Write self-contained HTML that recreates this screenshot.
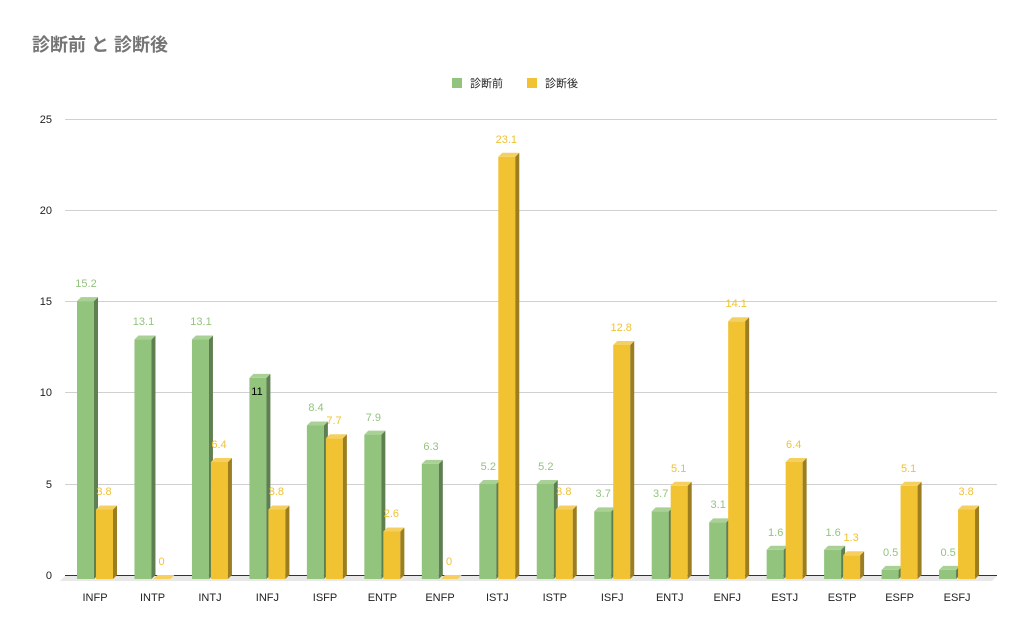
<!DOCTYPE html>
<html><head><meta charset="utf-8"><style>
body{margin:0;background:#fff;}
svg{display:block;font-family:"Liberation Sans","Noto Sans CJK JP",sans-serif;}
.g{fill:#93c47d;font-size:11px;text-anchor:middle}
.y{fill:#f1c232;font-size:11px;text-anchor:middle}
.ax{fill:#222;font-size:11px}
</style></head><body>
<svg id="s" width="1028" height="635" viewBox="0 0 1028 635">
<rect width="1028" height="635" fill="#fff"/>
<text x="32" y="51" font-size="18" font-weight="bold" fill="#757575">診断前 と 診断後</text>
<rect x="452" y="78" width="10" height="10" fill="#93c47d"/>
<text x="470" y="87" font-size="11" fill="#222">診断前</text>
<rect x="527" y="78" width="10" height="10" fill="#f1c232"/>
<text x="545" y="87" font-size="11" fill="#222">診断後</text>
<g stroke="#d0d0d0" stroke-width="1">
<line x1="65" x2="997" y1="119.5" y2="119.5"/>
<line x1="65" x2="997" y1="210.5" y2="210.5"/>
<line x1="65" x2="997" y1="301.5" y2="301.5"/>
<line x1="65" x2="997" y1="392.5" y2="392.5"/>
<line x1="65" x2="997" y1="484.5" y2="484.5"/>
</g>
<polygon points="65,576 997,576 992,581 60,581" fill="#e8e8e8"/>
<line x1="65" x2="997" y1="575.5" y2="575.5" stroke="#333"/>
<g class="ax" text-anchor="end">
<text x="52" y="123">25</text><text x="52" y="214">20</text><text x="52" y="305">15</text>
<text x="52" y="396">10</text><text x="52" y="488">5</text><text x="52" y="579">0</text>
</g>
<g id="bars"></g>
<g class="ax" text-anchor="middle">
<text x="95" y="601">INFP</text><text x="152.5" y="601">INTP</text><text x="210" y="601">INTJ</text><text x="267.4" y="601">INFJ</text>
<text x="325" y="601">ISFP</text><text x="382.4" y="601">ENTP</text><text x="440" y="601">ENFP</text><text x="497.3" y="601">ISTJ</text>
<text x="554.8" y="601">ISTP</text><text x="612.2" y="601">ISFJ</text><text x="669.7" y="601">ENTJ</text><text x="727.2" y="601">ENFJ</text>
<text x="784.7" y="601">ESTJ</text><text x="842.1" y="601">ESTP</text><text x="899.6" y="601">ESFP</text><text x="957.1" y="601">ESFJ</text>
</g>
<g>
<text class="g" x="86" y="287">15.2</text><text class="y" x="104" y="495">3.8</text>
<text class="g" x="143.5" y="325">13.1</text><text class="y" x="161.5" y="565">0</text>
<text class="g" x="201" y="325">13.1</text><text class="y" x="219" y="448">6.4</text>
<text x="257" y="395" font-size="11" fill="#000" text-anchor="middle">11</text><text class="y" x="276.4" y="495">3.8</text>
<text class="g" x="316" y="411">8.4</text><text class="y" x="334" y="424">7.7</text>
<text class="g" x="373.4" y="421">7.9</text><text class="y" x="391.4" y="517">2.6</text>
<text class="g" x="431" y="450">6.3</text><text class="y" x="449" y="565">0</text>
<text class="g" x="488.3" y="470">5.2</text><text class="y" x="506.3" y="143">23.1</text>
<text class="g" x="545.8" y="470">5.2</text><text class="y" x="563.8" y="495">3.8</text>
<text class="g" x="603.2" y="497">3.7</text><text class="y" x="621.2" y="331">12.8</text>
<text class="g" x="660.7" y="497">3.7</text><text class="y" x="678.7" y="472">5.1</text>
<text class="g" x="718.2" y="508">3.1</text><text class="y" x="736.2" y="307">14.1</text>
<text class="g" x="775.7" y="536">1.6</text><text class="y" x="793.7" y="448">6.4</text>
<text class="g" x="833.1" y="536">1.6</text><text class="y" x="851.1" y="541">1.3</text>
<text class="g" x="890.6" y="556">0.5</text><text class="y" x="908.6" y="472">5.1</text>
<text class="g" x="948.1" y="556">0.5</text><text class="y" x="966.1" y="495">3.8</text>
</g>
</svg>
<script>
var G=[15.2,13.1,13.1,11,8.4,7.9,6.3,5.2,5.2,3.7,3.7,3.1,1.6,1.6,0.5,0.5];
var Y=[3.8,0,6.4,3.8,7.7,2.6,0,23.1,3.8,12.8,5.1,14.1,6.4,1.3,5.1,3.8];
var h='';
function bar(x,v,f,s,t){var b=579,top=b-v*18.28,w=17,d=4;
 if(v>0){h+='<rect x="'+x+'" y="'+top+'" width="'+w+'" height="'+(b-top)+'" fill="'+f+'"/>';
 h+='<polygon points="'+(x+w)+','+top+' '+(x+w+d)+','+(top-d)+' '+(x+w+d)+','+(b-d)+' '+(x+w)+','+b+'" fill="'+s+'"/>';}
 h+='<polygon points="'+x+','+top+' '+(x+d)+','+(top-d)+' '+(x+w+d)+','+(top-d)+' '+(x+w)+','+top+'" fill="'+t+'"/>';}
for(var i=0;i<16;i++){var c=95+57.47*i;
 bar(c-18,G[i],'#93c47d','#5e7f50','#a9d095');
 bar(c+1,Y[i],'#f1c232','#9c7e20','#f5d060');}
document.getElementById('bars').innerHTML=h;
</script>
</body></html>
